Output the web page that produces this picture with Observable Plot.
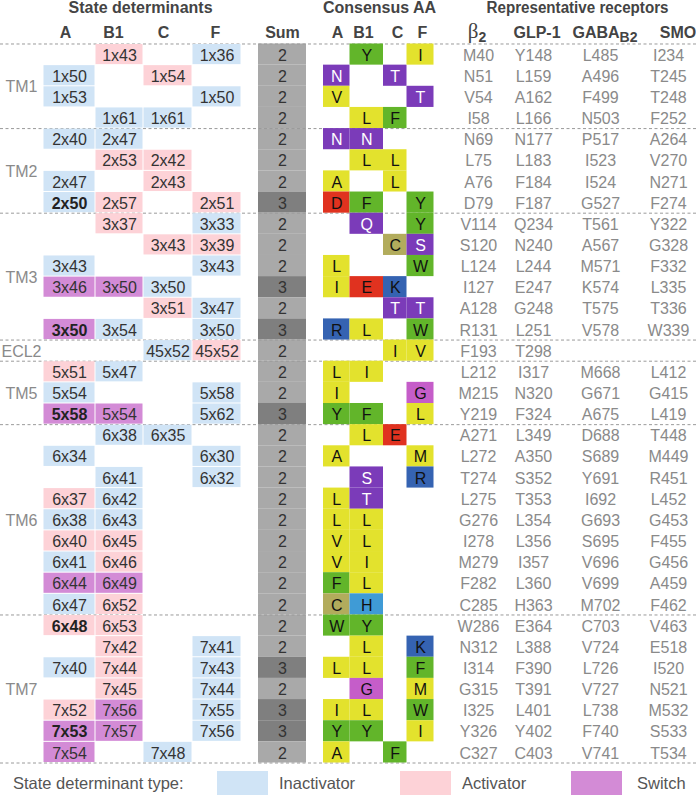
<!DOCTYPE html>
<html>
<head>
<meta charset="utf-8">
<script src="https://cdn.jsdelivr.net/npm/d3@7"></script>
<script src="https://cdn.jsdelivr.net/npm/@observablehq/plot@0.6"></script>
<style>
  html, body { margin: 0; padding: 0; background: #fff; }
  #wrap { position: relative; width: 696px; height: 795px; overflow: hidden; font-family: "Liberation Sans", Arial, Helvetica, sans-serif; }
  #legend { position: absolute; left: 0; top: 765px; width: 696px; height: 30px; }
  #legend .lab { position: absolute; top: 0; height: 30px; line-height: 36px; font-size: 16.5px; color: #555; white-space: nowrap; }
  #legend .sw { position: absolute; top: 6px; height: 26px; }
</style>
</head>
<body>
<div id="wrap"><div id="chart"></div><div id="legend"></div></div>
<script>
// ---------------- DATA ----------------
const regionNames = ["TM1", "TM2", "TM3", "ECL2", "TM5", "TM6", "TM7"];
const regionSizes = [4, 4, 6, 1, 3, 9, 7];

// State determinants (generic residue numbers) per class
const detA  = ["", "1x50", "1x53", "", "2x40", "", "2x47", "2x50", "", "", "3x43", "3x46", "", "3x50", "", "5x51", "5x54", "5x58", "", "6x34", "", "6x37", "6x38", "6x40", "6x41", "6x44", "6x47", "6x48", "", "7x40", "", "7x52", "7x53", "7x54"];
const typeA = ["", "I", "I", "", "I", "", "I", "I", "", "", "I", "S", "", "S", "", "A", "I", "S", "", "I", "", "A", "I", "A", "I", "S", "I", "A", "", "I", "", "A", "S", "S"];
const detB1  = ["1x43", "", "", "1x61", "2x47", "2x53", "", "2x57", "3x37", "", "", "3x50", "", "3x54", "", "5x47", "", "5x54", "6x38", "", "6x41", "6x42", "6x43", "6x45", "6x46", "6x49", "6x52", "6x53", "7x42", "7x44", "7x45", "7x56", "7x57", ""];
const typeB1 = ["A", "", "", "I", "I", "A", "", "A", "A", "", "", "S", "", "I", "", "I", "", "S", "I", "", "I", "I", "I", "A", "A", "S", "A", "A", "A", "A", "A", "S", "S", ""];
const detC  = ["", "1x54", "", "1x61", "", "2x42", "2x43", "", "", "3x43", "", "3x50", "3x51", "", "45x52", "", "", "", "6x35", "", "", "", "", "", "", "", "", "", "", "", "", "", "", "7x48"];
const typeC = ["", "A", "", "I", "", "A", "A", "", "", "A", "", "I", "A", "", "I", "", "", "", "I", "", "", "", "", "", "", "", "", "", "", "", "", "", "", "I"];
const detF  = ["1x36", "", "1x50", "", "", "", "", "2x51", "3x33", "3x39", "3x43", "", "3x47", "3x50", "45x52", "", "5x58", "5x62", "", "6x30", "6x32", "", "", "", "", "", "", "", "7x41", "7x43", "7x44", "7x55", "7x56", ""];
const typeF = ["I", "", "I", "", "", "", "", "A", "I", "A", "I", "", "I", "I", "A", "", "I", "I", "", "I", "I", "", "", "", "", "", "", "", "I", "I", "I", "I", "I", ""];
const boldRowsA = [7, 13, 17, 27, 32];

const sums = [2, 2, 2, 2, 2, 2, 2, 3, 2, 2, 2, 3, 2, 3, 2, 2, 2, 3, 2, 2, 2, 2, 2, 2, 2, 2, 2, 2, 2, 3, 2, 3, 3, 2];

// Consensus amino acids per class
const aaA  = ["", "N", "V", "", "N", "", "A", "D", "", "", "L", "I", "", "R", "", "L", "I", "Y", "", "A", "", "L", "L", "V", "V", "F", "C", "W", "", "L", "", "I", "Y", "A"];
const aaB1 = ["Y", "", "", "L", "N", "L", "", "F", "Q", "", "", "E", "", "L", "", "I", "", "F", "L", "", "S", "T", "L", "L", "I", "L", "H", "Y", "L", "L", "G", "L", "Y", ""];
const aaC  = ["", "T", "", "F", "", "L", "L", "", "", "C", "", "K", "T", "", "I", "", "", "", "E", "", "", "", "", "", "", "", "", "", "", "", "", "", "", "F"];
const aaF  = ["I", "", "T", "", "", "", "", "Y", "Y", "S", "W", "", "T", "W", "V", "", "G", "L", "", "M", "R", "", "", "", "", "", "", "", "K", "F", "M", "W", "I", ""];

// Representative receptors
const recB2   = ["M40", "N51", "V54", "I58", "N69", "L75", "A76", "D79", "V114", "S120", "L124", "I127", "A128", "R131", "F193", "L212", "M215", "Y219", "A271", "L272", "T274", "L275", "G276", "I278", "M279", "F282", "C285", "W286", "N312", "I314", "G315", "I325", "Y326", "C327"];
const recGLP1 = ["Y148", "L159", "A162", "L166", "N177", "L183", "F184", "F187", "Q234", "N240", "L244", "E247", "G248", "L251", "T298", "I317", "N320", "F324", "L349", "A350", "S352", "T353", "L354", "L356", "I357", "L360", "H363", "E364", "L388", "F390", "T391", "L401", "Y402", "C403"];
const recGABA = ["L485", "A496", "F499", "N503", "P517", "I523", "I524", "G527", "T561", "A567", "M571", "K574", "T575", "V578", "", "M668", "G671", "A675", "D688", "S689", "Y691", "I692", "G693", "S695", "V696", "V699", "M702", "C703", "V724", "L726", "V727", "L738", "F740", "V741"];
const recSMO  = ["I234", "T245", "T248", "F252", "A264", "V270", "N271", "F274", "Y322", "G328", "F332", "L335", "T336", "W339", "", "L412", "G415", "L419", "T448", "M449", "R451", "L452", "G453", "F455", "G456", "A459", "F462", "V463", "E518", "I520", "N521", "M532", "S533", "T534"];

// Header texts
const groupTitles = ["State determinants", "Consensus AA", "Representative receptors"];
const classHeads = ["A", "B1", "C", "F"];
const sumHead = "Sum";
const recHeads = [{base: "β", sub: "2"}, {base: "GLP-1", sub: ""}, {base: "GABA", sub: "B2"}, {base: "SMO", sub: ""}];
const legendTitle = "State determinant type:";
const typeNames = {I: "Inactivator", A: "Activator", S: "Switch"};
const legendTypes = ["Inactivator", "Activator", "Switch"];

// Amino-acid colour classes
const aaClassOf = {N: "polar", T: "polar", Q: "polar", S: "polar", Y: "aromatic", F: "aromatic", W: "aromatic",
  I: "aliphatic", L: "aliphatic", V: "aliphatic", A: "aliphatic", M: "aliphatic", D: "acidic", E: "acidic",
  K: "basic", R: "basic", C: "cysteine", H: "histidine", G: "glycine"};

// ---------------- STYLE / LAYOUT ----------------
const fillKeys   = ["Inactivator", "Activator", "Switch", "sum2", "sum3", "polar", "aromatic", "aliphatic", "acidic", "basic", "cysteine", "histidine", "glycine"];
const fillColors = ["#d0e4f6", "#fdd2d7", "#d38bd6", "#a9a9a9", "#7f7f7f", "#7b3bb9", "#62b52a", "#e3e22d", "#e0321f", "#3563b2", "#b2ac5c", "#3f9bd6", "#c55dc9"];

const L = {
  labelX: 21,
  det: {A: [43, 95], B1: [95, 143], C: [143, 192], F: [192, 241]},
  sum: [258, 306],
  aa: {A: [323, 349.5], B1: [349.5, 383], C: [383, 406.5], F: [406.5, 433.5]},
  recX: [478, 533, 600, 668],
  titleX: [140, 379, 577],
  titleLen: {"Representative receptors": 182},
  detHeadX: [65, 113, 163, 215],
  sumHeadX: 282,
  aaHeadX: [337, 363, 397, 422],
  recHeadX: [476.5, 536.5, 604.5, 677.5],
  yRange: [1.2, 762.5],
  legend: {title: 13, items: [[217, 279], [400, 462], [571, 637]], swatchW: 51}
};
const mid = a => (a[0] + a[1]) / 2;
const FONT = "'Liberation Sans', Arial, Helvetica, sans-serif";

// ---------------- BUILD TABLES ----------------
const nRows = detA.length;
const detData = {A: detA, B1: detB1, C: detC, F: detF};
const detType = {A: typeA, B1: typeB1, C: typeC, F: typeF};
const detCells = [];
for (const c of classHeads) for (let i = 0; i < nRows; i++) {
  if (detData[c][i]) detCells.push({row: i, col: c, label: detData[c][i], type: typeNames[detType[c][i]],
    bold: c === "A" && boldRowsA.includes(i)});
}
const sumRows = sums.map((s, i) => ({row: i, sum: s}));
const aaData = {A: aaA, B1: aaB1, C: aaC, F: aaF};
const aaCells = [];
for (const c of classHeads) for (let i = 0; i < nRows; i++) {
  const a = aaData[c][i];
  if (a) aaCells.push({row: i, col: c, aa: a, cls: aaClassOf[a]});
}
const recCols = [recB2, recGLP1, recGABA, recSMO];
const recCells = [];
recCols.forEach((arr, k) => arr.forEach((v, i) => { if (v) recCells.push({row: i, k, v}); }));

const regions = [];
let start = 0;
regionNames.forEach((n, k) => { regions.push({name: n, start, size: regionSizes[k]}); start += regionSizes[k]; });
const boundaries = [0, ...regions.map(r => r.start + r.size)];

const titles = groupTitles.map((t, k) => ({t, x: L.titleX[k]}));
const heads = [
  ...classHeads.map((h, k) => ({t: h, x: L.detHeadX[k]})),
  {t: sumHead, x: L.sumHeadX},
  ...classHeads.map((h, k) => ({t: h, x: L.aaHeadX[k]}))
];
const rheads = recHeads.map((h, k) => ({t: h.base + h.sub, x: L.recHeadX[k]}));

// ---------------- PLOT ----------------
const chart = Plot.plot({
  width: 696,
  height: 765,
  margin: 0,
  style: {fontFamily: FONT, background: "#fff"},
  x: {type: "linear", domain: [0, 696], range: [0, 696], axis: null},
  y: {type: "linear", domain: [-2, nRows], range: L.yRange, axis: null},
  color: {type: "ordinal", domain: fillKeys, range: fillColors},
  marks: [
    // Sum column
    Plot.rect(sumRows, {x1: () => L.sum[0], x2: () => L.sum[1], y1: "row", y2: d => d.row + 1, fill: d => "sum" + d.sum}),
    // Dashed separators
    Plot.ruleY(boundaries, {stroke: "#9a9a9a", strokeWidth: 1, strokeDasharray: "3,2.5"}),
    // State determinant cells
    Plot.rect(detCells, {x1: d => L.det[d.col][0], x2: d => L.det[d.col][1], y1: "row", y2: d => d.row + 1, fill: "type", inset: 0.5}),
    Plot.text(detCells.filter(d => !d.bold), {x: d => mid(L.det[d.col]), y: d => d.row + 0.5, text: "label", fontSize: 16, fill: "#333", dy: 1}),
    Plot.text(detCells.filter(d => d.bold), {x: d => mid(L.det[d.col]), y: d => d.row + 0.5, text: "label", fontSize: 16, fontWeight: "bold", fill: "#222", dy: 1}),
    // Sum values
    Plot.text(sumRows, {x: () => mid(L.sum), y: d => d.row + 0.5, text: d => String(d.sum), fontSize: 16, fill: "#333", dy: 1}),
    // Consensus AA
    Plot.rect(aaCells, {x1: d => L.aa[d.col][0], x2: d => L.aa[d.col][1], y1: "row", y2: d => d.row + 1, fill: "cls"}),
    Plot.text(aaCells.filter(d => d.cls !== "polar"), {x: d => mid(L.aa[d.col]), y: d => d.row + 0.5, text: "aa", fontSize: 16, fill: "#111", dy: 1}),
    Plot.text(aaCells.filter(d => d.cls === "polar"), {x: d => mid(L.aa[d.col]), y: d => d.row + 0.5, text: "aa", fontSize: 16, fill: "#fff", dy: 1}),
    // Receptor residues
    Plot.text(recCells, {x: d => L.recX[d.k], y: d => d.row + 0.5, text: "v", fontSize: 16, fill: "#8a8a8a", dy: 1}),
    // Region labels
    Plot.text(regions, {x: () => L.labelX, y: d => d.start + d.size / 2, text: "name", fontSize: 16, fill: "#8a8a8a", dy: 1}),
    // Headers
    Plot.text(titles, {x: "x", y: () => -1.5, text: "t", fontSize: 16, fontWeight: "bold", fill: "#444", dy: -4}),
    Plot.text(heads, {x: "x", y: () => -0.5, text: "t", fontSize: 16, fontWeight: "bold", fill: "#444", dy: -0.5}),
    Plot.text(rheads, {x: "x", y: () => -0.5, text: "t", fontSize: 16, fontWeight: "bold", fill: "#444", dy: -0.5})
  ]
});
document.getElementById("chart").appendChild(chart);

// Post-processing of header text: subscripts (β2, GABA_B2) and condensed title
const NS = "http://www.w3.org/2000/svg";
chart.querySelectorAll("text").forEach(el => {
  const content = el.textContent;
  if (L.titleLen[content]) {
    el.setAttribute("textLength", L.titleLen[content]);
    el.setAttribute("lengthAdjust", "spacingAndGlyphs");
  }
  const h = recHeads.find(h => h.sub && h.base + h.sub === content);
  if (!h) return;
  el.textContent = "";
  const t1 = document.createElementNS(NS, "tspan");
  t1.textContent = h.base;
  if (h.base === "β") {
    t1.setAttribute("font-family", "'Liberation Serif', 'DejaVu Serif', serif");
    t1.setAttribute("font-weight", "normal");
    t1.setAttribute("font-size", "21");
  }
  const t2 = document.createElementNS(NS, "tspan");
  t2.textContent = h.sub;
  t2.setAttribute("font-size", "14");
  t2.setAttribute("dy", "4");
  el.append(t1, t2);
});

// Legend (below the SVG)
const leg = d3.select("#legend");
leg.append("div").attr("class", "lab").style("left", L.legend.title + "px").text(legendTitle);
legendTypes.forEach((t, k) => {
  const [sx, tx] = L.legend.items[k];
  leg.append("div").attr("class", "sw").style("left", sx + "px").style("width", L.legend.swatchW + "px")
    .style("background", fillColors[fillKeys.indexOf(t)]);
  leg.append("div").attr("class", "lab").style("left", tx + "px").text(t);
});
</script>
</body>
</html>
